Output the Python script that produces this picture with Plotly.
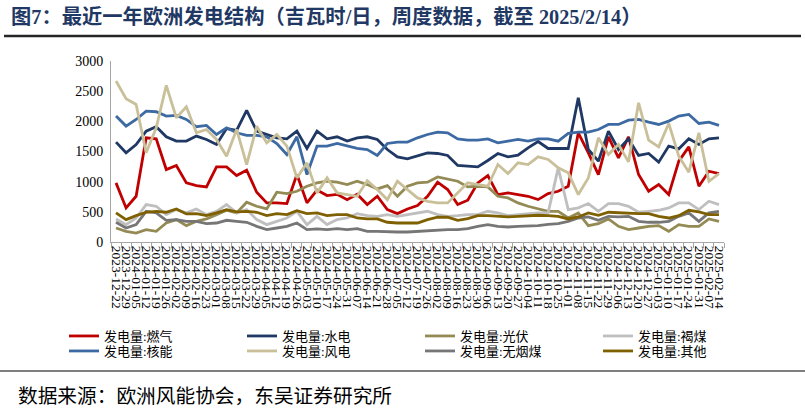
import plotly.graph_objects as go

dates = [
    "2023-12-22", "2023-12-29",
    "2024-01-05", "2024-01-12", "2024-01-19", "2024-01-26",
    "2024-02-02", "2024-02-09", "2024-02-16", "2024-02-23",
    "2024-03-01", "2024-03-08", "2024-03-15", "2024-03-22", "2024-03-29",
    "2024-04-05", "2024-04-12", "2024-04-19", "2024-04-26",
    "2024-05-03", "2024-05-10", "2024-05-17", "2024-05-24", "2024-05-31",
    "2024-06-07", "2024-06-14", "2024-06-21", "2024-06-28",
    "2024-07-05", "2024-07-12", "2024-07-19", "2024-07-26",
    "2024-08-02", "2024-08-09", "2024-08-16", "2024-08-23", "2024-08-30",
    "2024-09-06", "2024-09-13", "2024-09-20", "2024-09-27",
    "2024-10-04", "2024-10-11", "2024-10-18", "2024-10-25",
    "2024-11-01", "2024-11-08", "2024-11-15", "2024-11-22", "2024-11-29",
    "2024-12-06", "2024-12-13", "2024-12-20", "2024-12-27",
    "2025-01-03", "2025-01-10", "2025-01-17", "2025-01-24", "2025-01-31",
    "2025-02-07", "2025-02-14",
]

gas = [980, 565, 758, 1727, 1710, 1201, 1268, 980, 935, 913, 1245, 1245, 1101, 1190, 825,
       648, 648, 637, 1118, 650, 860, 770, 790, 700, 790,
       620, 758, 537, 470, 548, 603, 758, 991, 869, 620, 692, 980, 1101, 786, 814, 786,
       758, 703, 803, 841, 924, 1810, 1478, 1118, 1744, 1395, 1744, 1118, 841, 952, 786,
       1339, 1577, 924, 1173, 1135]
hydro = [1655, 1478, 1616, 1838, 1910, 1744, 1672, 1672, 1755, 1700, 1616, 1880, 1850, 2181, 1838,
         1782, 1727, 1710, 1838, 1550, 1838, 1710, 1744, 1672, 1727,
         1744, 1700, 1533, 1411, 1378, 1434, 1478, 1467, 1434, 1268, 1256, 1245, 1351, 1467, 1411,
         1439, 1561, 1666, 1550, 1550, 1550, 2391, 1533, 1339, 1838, 1533, 1710, 1434, 1467, 1323,
         1589, 1544, 1710, 1616, 1710, 1727]
solar = [232, 177, 149, 205, 177, 315, 371, 271, 343, 382, 454, 526, 482, 659, 592,
         548, 825, 803, 841, 924, 980, 1007, 991, 952, 1007,
         952, 880, 935, 758, 924, 980, 991, 1079, 1046, 1007, 913, 924, 913, 758, 731,
         648, 592, 548, 509, 509, 398, 482, 271, 304, 382, 260, 205, 232, 260, 271,
         177, 288, 260, 260, 382, 343]
lignite = [382, 288, 398, 620, 592, 454, 537, 482, 548, 454, 509, 620, 482, 537, 371,
           288, 343, 398, 509, 288, 426, 288, 371, 398, 470,
           437, 426, 454, 426, 454, 482, 509, 454, 426, 437, 454, 454, 509, 482, 437,
           454, 470, 482, 482, 1229, 537, 565, 637, 509, 637, 637, 592, 493, 509, 526,
           565, 648, 648, 537, 675, 620]
nuclear = [2087, 1921, 2031, 2170, 2159, 2087, 2098, 2031, 1910, 1932, 1782, 1893, 1810, 1766, 1766,
           1744, 1633, 1450, 1744, 1118, 1589, 1589, 1633, 1589, 1550,
           1533, 1434, 1633, 1655, 1655, 1727, 1782, 1821, 1810, 1710, 1688, 1688, 1710, 1644, 1672,
           1700, 1672, 1710, 1710, 1672, 1799, 1821, 1821, 1865, 1948, 1948, 2020, 2031, 1987, 1948,
           2004, 2087, 2114, 1965, 1987, 1932]
wind = [2668, 2375, 2280, 1478, 1893, 2596, 2059, 2241, 1810, 1865, 1700, 1422, 1865, 1284, 1920,
        1644, 1782, 1588, 1063, 1312, 814, 1063, 814, 786, 758,
        1018, 869, 703, 1007, 869, 731, 675, 648, 648, 814, 980, 952, 924, 1284, 1135,
        1312, 1284, 1411, 1367, 1229, 1146, 786, 1063, 1727, 1450, 1616, 1328, 2308, 1688, 1577,
        1965, 1422, 1157, 1810, 1007, 1135]
hardcoal = [327, 232, 288, 509, 482, 360, 371, 343, 343, 304, 315, 360, 343, 327, 260,
            205, 232, 260, 315, 205, 216, 205, 221, 205, 221,
            177, 177, 166, 166, 166, 177, 188, 194, 205, 205, 221, 260, 288, 260, 249,
            260, 260, 271, 293, 304, 343, 398, 415, 360, 426, 415, 426, 343, 327, 327,
            343, 426, 482, 343, 482, 509]
other = [482, 371, 437, 493, 509, 493, 548, 465, 470, 437, 482, 537, 498, 509, 493,
         437, 470, 454, 520, 470, 482, 437, 454, 454, 398,
         382, 382, 327, 315, 315, 315, 371, 410, 410, 360, 387, 437, 437, 426, 415,
         426, 437, 443, 437, 426, 382, 415, 482, 443, 493, 482, 470, 470, 470, 426,
         398, 437, 526, 498, 454, 454]

series_row1 = [
    ("发电量:燃气", gas, "#C00000"),
    ("发电量:水电", hydro, "#1F3864"),
    ("发电量:光伏", solar, "#948A54"),
    ("发电量:褐煤", lignite, "#BFBFBF"),
]
series_row2 = [
    ("发电量:核能", nuclear, "#3D6AA3"),
    ("发电量:风电", wind, "#C9C09A"),
    ("发电量:无烟煤", hardcoal, "#767676"),
    ("发电量:其他", other, "#7F6000"),
]

SERIF = "Times New Roman, Liberation Serif, Noto Sans CJK SC"

fig = go.Figure()
for name, vals, col in series_row1:
    fig.add_trace(go.Scatter(x=dates, y=vals, name=name, mode="lines",
                             line=dict(color=col, width=2.8), legend="legend"))
for name, vals, col in series_row2:
    fig.add_trace(go.Scatter(x=dates, y=vals, name=name, mode="lines",
                             line=dict(color=col, width=2.8), legend="legend2"))

W, H = 805, 417
L, R, T, B = 111, 81, 61, 175
pw, ph = W - L - R, H - T - B

def px_x(x):
    return (x - L) / pw

def px_y(y):
    return (H - B - y) / ph

legend_common = dict(orientation="h", xref="paper", yref="paper",
                     xanchor="left", yanchor="top", entrywidth=133, entrywidthmode="pixels",
                     font=dict(family=SERIF, size=13, color="#000000"),
                     bgcolor="rgba(0,0,0,0)", borderwidth=0, itemclick=False)

fig.update_layout(
    width=W, height=H,
    margin=dict(l=L, r=R, t=T, b=B),
    paper_bgcolor="white", plot_bgcolor="white",
    showlegend=True,
    legend=dict(x=px_x(64), y=px_y(321), **legend_common),
    legend2=dict(x=px_x(64), y=px_y(336), **legend_common),
    xaxis=dict(type="category", tickson="boundaries", ticks="outside", ticklen=5,
               tickcolor="#A6A6A6", showline=True, linecolor="#A6A6A6", linewidth=1,
               showgrid=False, tickangle=90,
               tickmode="array", tickvals=dates, ticktext=dates,
               tickfont=dict(family=SERIF, size=13.5, color="#000000"),
               range=[-0.5, len(dates) - 0.5]),
    yaxis=dict(range=[0, 3000], dtick=500, showline=True, linecolor="#A6A6A6", linewidth=1,
               showgrid=False, zeroline=False, ticks="", ticklabelstandoff=4,
               tickfont=dict(family=SERIF, size=14, color="#000000")),
    annotations=[
        dict(text="<b>图7：最近一年欧洲发电结构（吉瓦时/日，周度数据，截至 2025/2/14）</b>",
             xref="paper", yref="paper", x=px_x(9), y=px_y(17), xanchor="left", yanchor="middle",
             showarrow=False, font=dict(family=SERIF, size=20.3, color="#1F3864")),
        dict(text="数据来源：欧洲风能协会，东吴证券研究所",
             xref="paper", yref="paper", x=px_x(16), y=px_y(396), xanchor="left", yanchor="middle",
             showarrow=False, font=dict(family=SERIF, size=19.7, color="#000000")),
    ],
    shapes=[
        dict(type="line", xref="paper", yref="paper", x0=px_x(4), x1=px_x(801),
             y0=px_y(36), y1=px_y(36), line=dict(color="#262626", width=2.5)),
        dict(type="line", xref="paper", yref="paper", x0=px_x(0), x1=px_x(805),
             y0=px_y(371), y1=px_y(371), line=dict(color="#7F7F7F", width=2)),
    ],
)

fig.write_html("out.html")
